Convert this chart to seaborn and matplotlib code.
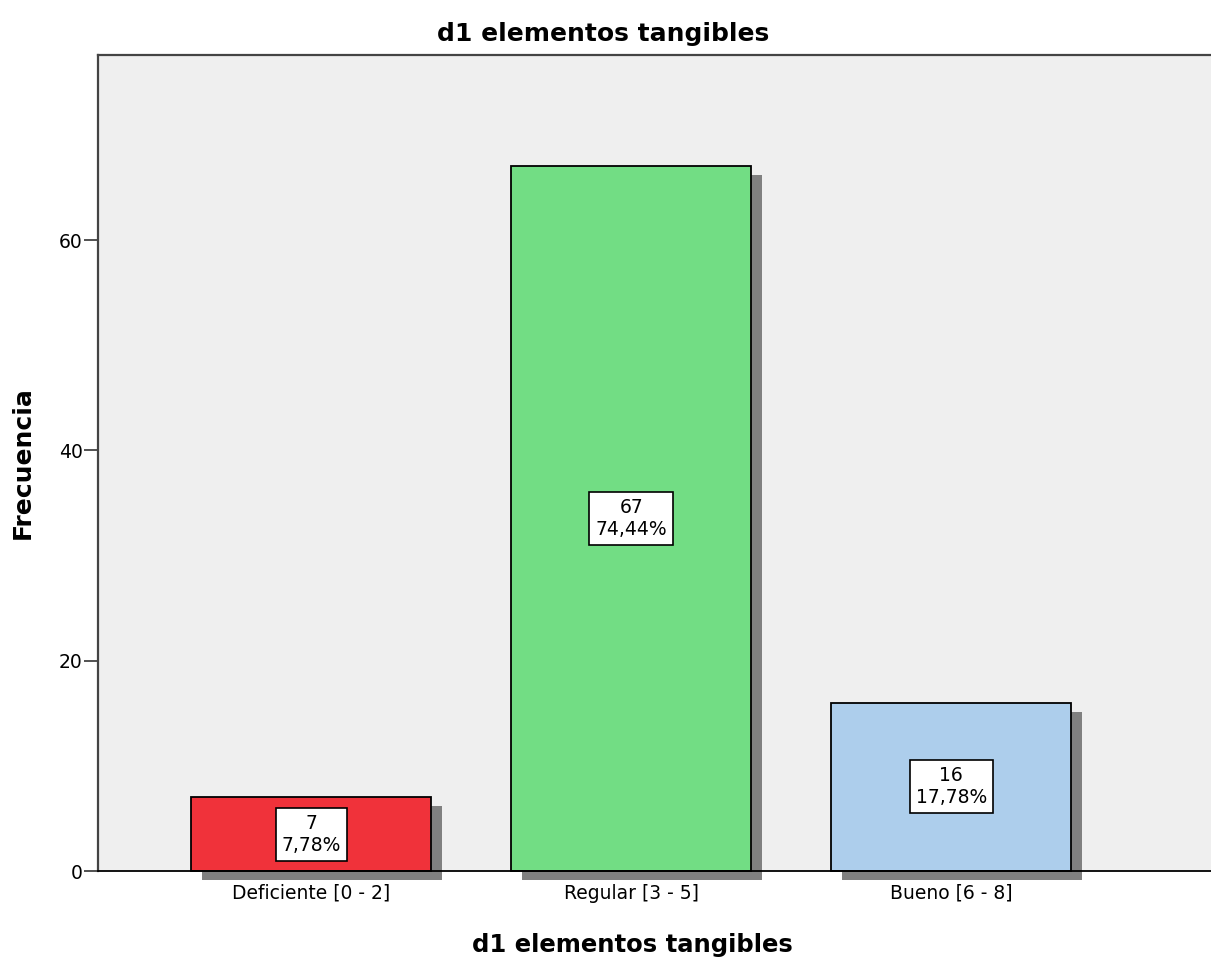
import matplotlib
matplotlib.use('Agg')
import matplotlib.pyplot as plt
import matplotlib.patheffects as pe
import pandas as pd
import seaborn as sns

categorias = ['Deficiente [0 - 2]', 'Regular [3 - 5]', 'Bueno [6 - 8]']
frecuencias = [7, 67, 16]
porcentajes = ['7,78%', '74,44%', '17,78%']
colores = ['#F0323A', '#72DD84', '#ADCEEC']

df = pd.DataFrame({'categoria': categorias, 'frecuencia': frecuencias})

sns.set_style('ticks')
plt.rcParams['font.family'] = ['DejaVu Sans']
plt.rcParams['text.color'] = 'black'
plt.rcParams['axes.labelcolor'] = 'black'

fig = plt.figure(figsize=(12.11, 9.6), dpi=100)
ax = fig.add_axes([0.081, 0.0927, 0.919, 0.85])
ax.set_facecolor('#EFEFEF')

sns.barplot(data=df, x='categoria', y='frecuencia', hue='categoria',
            palette=colores, legend=False, width=0.75,
            edgecolor='black', linewidth=1.3, saturation=1, ax=ax)

# sombra gris de las barras
for p in ax.patches:
    p.set_clip_on(False)
    p.set_path_effects([pe.SimplePatchShadow(offset=(8, -6.5), shadow_rgbFace='#808080', alpha=1),
                        pe.Normal()])

for i, (f, pct) in enumerate(zip(frecuencias, porcentajes)):
    ax.text(i, f / 2, f'{f}\n{pct}', ha='center', va='center', fontsize=13.5,
            linespacing=1.2, zorder=5,
            bbox=dict(boxstyle='square,pad=0.32', facecolor='white', edgecolor='black', linewidth=1.2))

ax.set_xlim(-0.666, 2.812)
ax.set_ylim(0, 77.6)
ax.set_yticks([0, 20, 40, 60])
ax.tick_params(axis='y', length=10, width=1.2, labelsize=13.5, labelcolor='black', color='#333333', pad=1)
ax.tick_params(axis='x', length=3, width=1, labelsize=13.5, labelcolor='black', color='#999999', pad=6)

for s in ['left', 'top']:
    ax.spines[s].set_color('#444444')
    ax.spines[s].set_linewidth(1.6)
ax.spines['bottom'].set_color('black')
ax.spines['bottom'].set_linewidth(1.3)
ax.spines['bottom'].set_zorder(4)
ax.spines['right'].set_visible(False)

ax.set_title('d1 elementos tangibles', fontsize=18, fontweight='bold', pad=10, x=0.4537)
ax.set_xlabel('d1 elementos tangibles', fontsize=17.5, fontweight='bold')
ax.set_ylabel('Frecuencia', fontsize=18, fontweight='bold')
ax.xaxis.set_label_coords(0.48, -0.076)
ax.yaxis.set_label_coords(-0.0566, 0.5)

fig.savefig('out.png', dpi=100)
